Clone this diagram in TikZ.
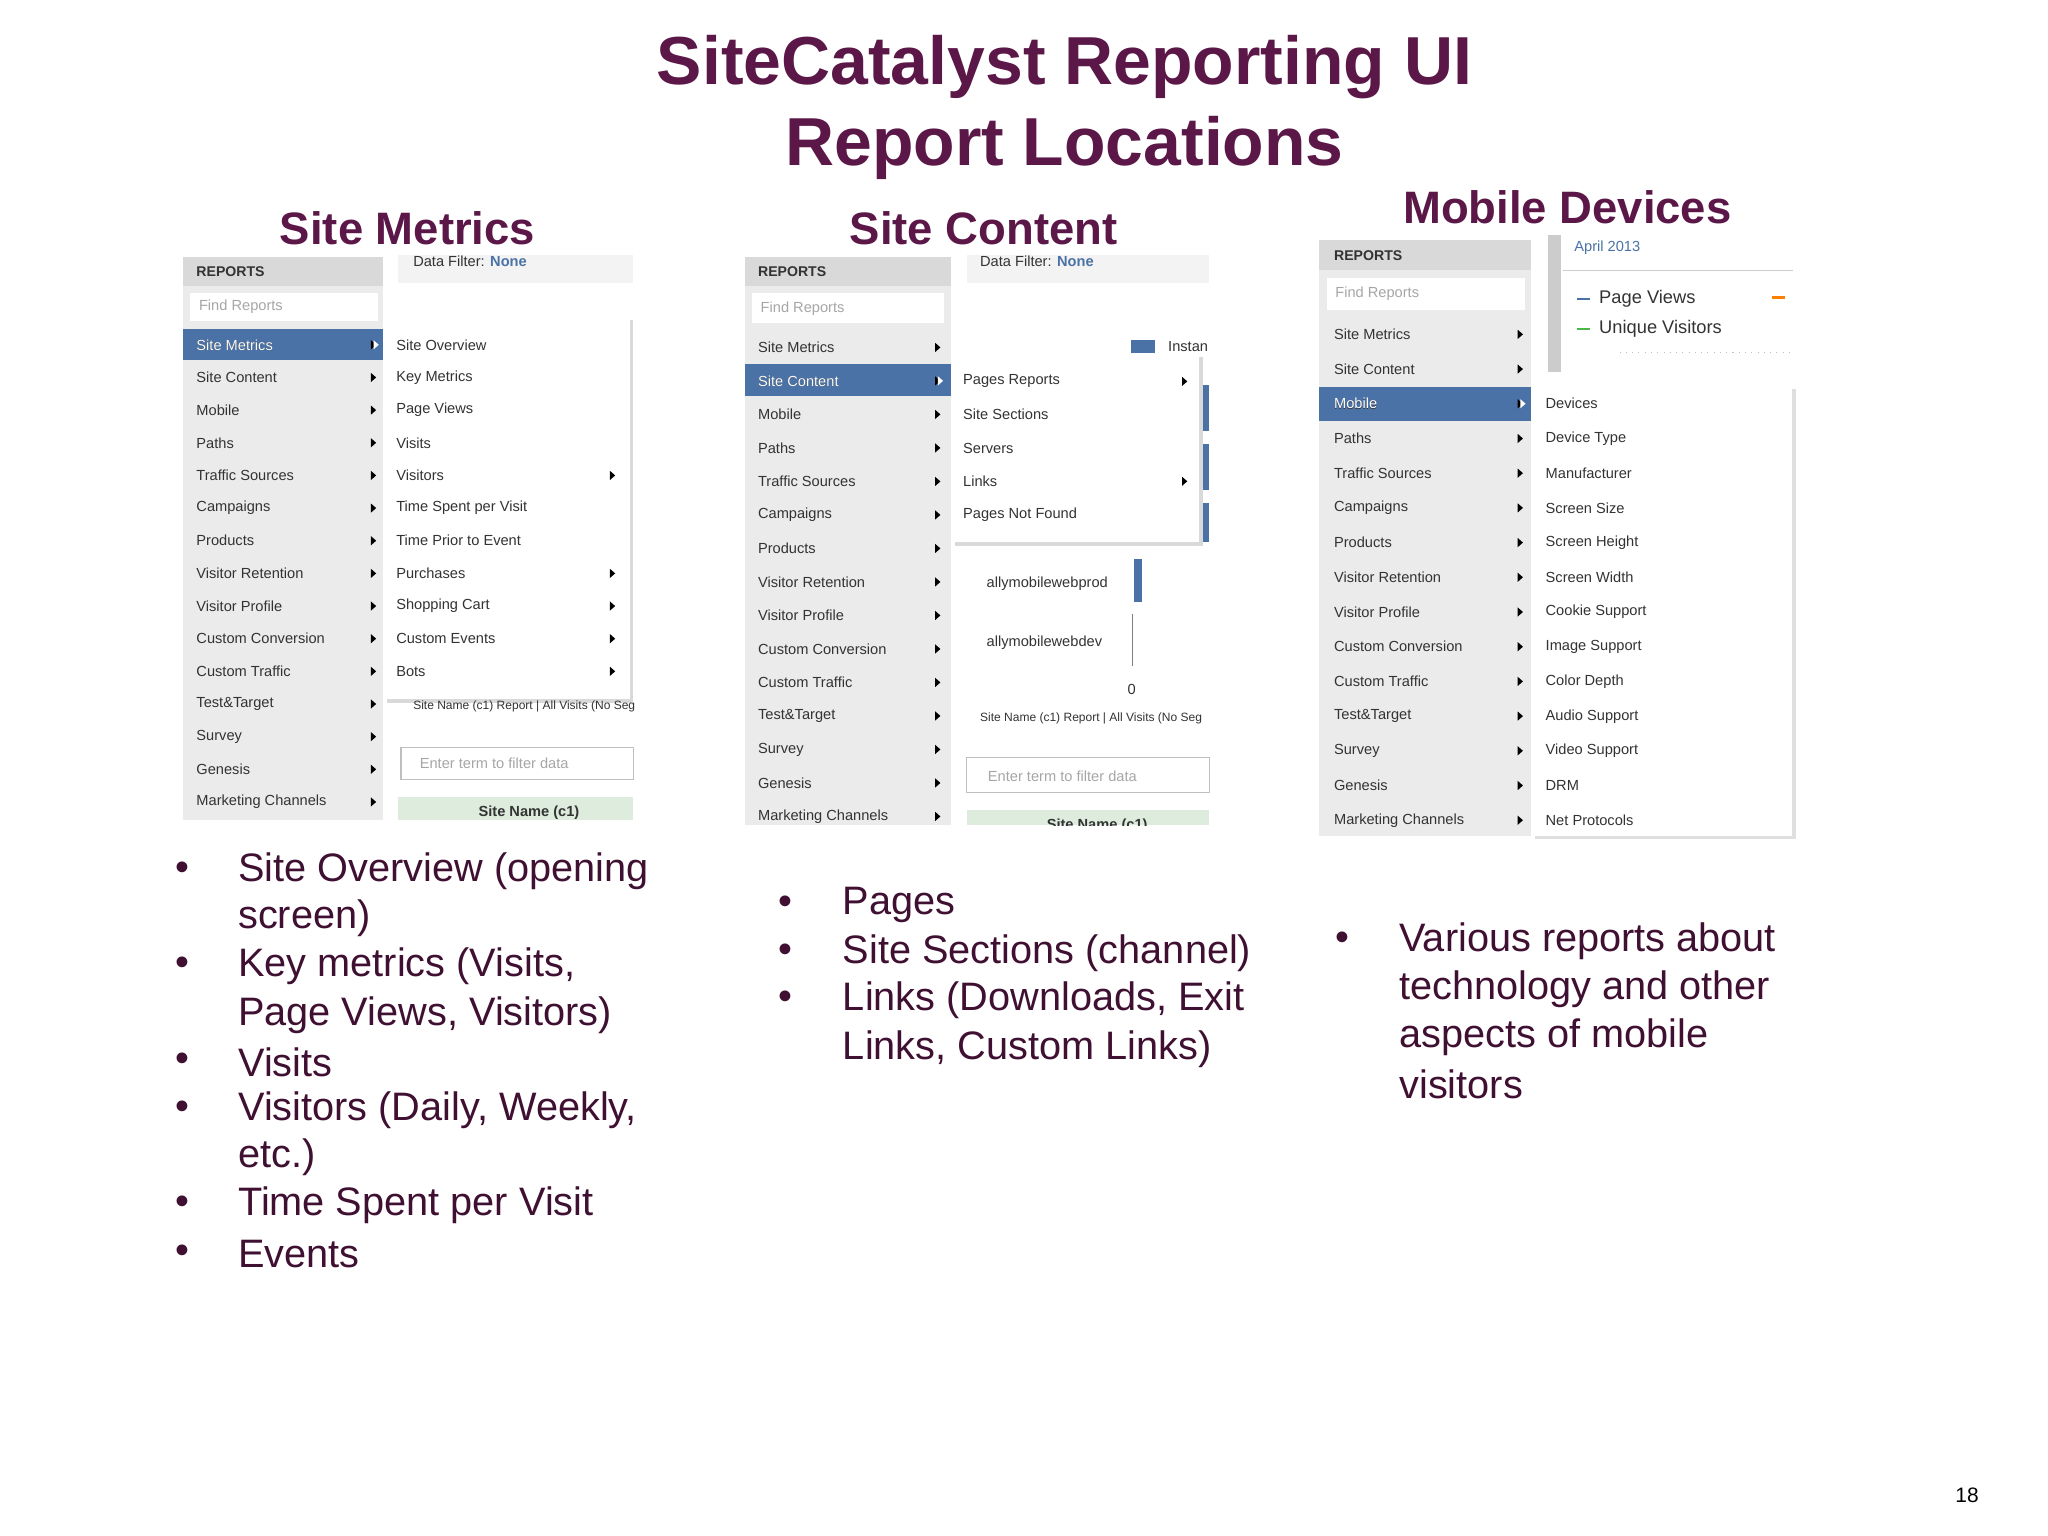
\documentclass[tikz,border=0pt]{standalone}
\usepackage{fontspec}
\setmainfont{Liberation Sans}
\definecolor{ttl}{HTML}{5B1747}
\definecolor{hl}{HTML}{4A72A6}
\definecolor{mg}{HTML}{EBEBEB}
\definecolor{hd}{HTML}{D9D9D9}
\definecolor{tx}{HTML}{333333}
\tikzset{
 mi/.style={anchor=west,inner sep=0,font=\fontsize{5.6}{7}\selectfont,text=tx},
 bul/.style={anchor=west,inner sep=0,font=\fontsize{15.2}{18}\selectfont,text=ttl!70!black},
 hdg/.style={font=\bfseries\fontsize{17.4}{21}\selectfont,text=ttl},
}
\newcommand{\tri}[2]{\fill ({#1-2},{#2-3.5}) -- ({#1+2},{#2}) -- ({#1-2},{#2+3.5}) -- cycle;}
\begin{document}
\begin{tikzpicture}[x=0.5pt,y=-0.5pt]
\useasboundingbox (0,0) rectangle (1568,1176);
\fill[white] (0,0) rectangle (1568,1176);
\node[font=\bfseries\fontsize{26}{31}\selectfont,text=ttl,align=center] (title) at (815,82) {SiteCatalyst Reporting UI\\Report Locations};
\node[hdg] (h1) at (312,175) {Site Metrics};
\node[hdg] (h2) at (753,175) {Site Content};
\node[hdg] (h3) at (1200,159) {Mobile Devices};
% ===== Panel 1
\fill[mg] (140,197) rectangle (293,628);
\fill[hd] (140,197) rectangle (293,219);
\node[mi,font=\bfseries\fontsize{5.4}{7}\selectfont] (r1) at (150,208) {REPORTS};
\draw[white,fill=white] (146,225) rectangle (289,245);
\node[mi,text=gray!70] (f1) at (152,235) {Find Reports};
\fill[hl] (140,252) rectangle (293,276);
\foreach \t [count=\i] in {Site Metrics,Site Content,Mobile,Paths,Traffic Sources,Campaigns,Products,Visitor Retention,Visitor Profile,Custom Conversion,Custom Traffic,Test\&Target,Survey,Genesis,Marketing Channels}{
  \node[mi] (pa\i) at (150,{264+25*(\i-1)}) {\t}; \tri{286}{264+25*(\i-1)}
}
\node[mi,text=white] at (150,264) {Site Metrics};
\fill[white] (286,260.5) -- (290,264) -- (286,267.5) -- cycle;
\fill[mg!60] (305,195) rectangle (485,217);
\node[mi] (df1) at (316,200) {Data Filter: \textcolor{hl}{\bfseries None}};
\fill[hl] (480,292) rectangle (485,325);\fill[hl] (480,337) rectangle (485,370);\fill[hl] (480,380) rectangle (485,410);
\fill[gray!30] (296,245) rectangle (485,538);
\fill[white] (293,242) rectangle (482,535);
\foreach \t [count=\i] in {Site Overview,Key Metrics,Page Views,Visits,Visitors,Time Spent per Visit,Time Prior to Event,Purchases,Shopping Cart,Custom Events,Bots}{
  \node[mi] (sa\i) at (303,{264+25*(\i-1)}) {\t};
}
\foreach \y in {364,439,464,489,514}{\tri{469}{\y}}
\begin{scope}\clip (300,530) rectangle (486,550);
\node[mi,font=\fontsize{4.6}{6}\selectfont] (sn1) at (316,541) {Site Name (c1) Report | All Visits (No Seg};
\end{scope}
\draw[gray!50] (307,572) rectangle (485,597);
\node[mi,text=gray!70] (et1) at (321,584) {Enter term to filter data};
\fill[green!6!mg] (305,610) rectangle (485,628);
\node[mi,font=\bfseries\fontsize{5.6}{7}\selectfont,anchor=center] (c1) at (405,622) {Site Name (c1)};
% ===== Panel 2
\fill[mg] (570,197) rectangle (728,632);
\fill[hd] (570,197) rectangle (728,219);
\node[mi,font=\bfseries\fontsize{5.4}{7}\selectfont] (r2) at (580,208) {REPORTS};
\draw[white,fill=white] (576,225) rectangle (722,247);
\node[mi,text=gray!70] (f2) at (582,236) {Find Reports};
\fill[hl] (570,279) rectangle (728,303);
\foreach \t [count=\i] in {Site Metrics,Site Content,Mobile,Paths,Traffic Sources,Campaigns,Products,Visitor Retention,Visitor Profile,Custom Conversion,Custom Traffic,Test\&Target,Survey,Genesis,Marketing Channels}{
  \node[mi] (pb\i) at (580,{266+25.65*(\i-1)}) {\t}; \tri{718}{266+25.65*(\i-1)}
}
\node[mi,text=white] at (580,291.6) {Site Content};
\fill[white] (718,288) -- (722,291.6) -- (718,295.2) -- cycle;
\fill[mg!60] (740,195) rectangle (926,217);
\node[mi] (df2) at (750,200) {Data Filter: \textcolor{hl}{\bfseries None}};
\fill[hl] (866,260) rectangle (884,270);
\node[mi] (in2) at (894,265) {Instan};
\fill[hl] (920,295) rectangle (926,330);\fill[hl] (920,340) rectangle (926,375);\fill[hl] (920,385) rectangle (926,415);
\fill[gray!30] (731,273) rectangle (921,418);
\fill[white] (728,270) rectangle (918,415);
\foreach \t [count=\i] in {Pages Reports,Site Sections,Servers,Links,Pages Not Found}{
  \node[mi] (sb\i) at (737,{292+25.5*(\i-1)}) {\t};
}
\tri{907}{292}\tri{907}{368.5}
\node[mi] (ap) at (755,447) {allymobilewebprod};
\fill[hl] (868,428) rectangle (874,461);
\node[mi] (ad) at (755,492) {allymobilewebdev};
\draw[gray] (867,470) -- (867,510);
\node[mi] (z) at (863,528) {0};
\begin{scope}\clip (740,540) rectangle (926,560);
\node[mi,font=\fontsize{4.6}{6}\selectfont] (sn2) at (750,550) {Site Name (c1) Report | All Visits (No Seg};
\end{scope}
\draw[gray!50] (740,580) rectangle (926,607);
\node[mi,text=gray!70] (et2) at (756,594) {Enter term to filter data};
\fill[green!6!mg] (740,620) rectangle (926,632);
\begin{scope}\clip (740,620) rectangle (926,632);
\node[mi,font=\bfseries\fontsize{5.6}{7}\selectfont,anchor=center] (c2) at (840,632) {Site Name (c1)};
\end{scope}
% ===== Panel 3
\fill[mg] (1010,184) rectangle (1172,640);
\fill[hd] (1010,184) rectangle (1172,207);
\node[mi,font=\bfseries\fontsize{5.4}{7}\selectfont] (r3) at (1021,196) {REPORTS};
\draw[white,fill=white] (1016,213) rectangle (1167,237);
\node[mi,text=gray!70] (f3) at (1022,225) {Find Reports};
\fill[hl] (1010,296) rectangle (1172,322);
\foreach \t [count=\i] in {Site Metrics,Site Content,Mobile,Paths,Traffic Sources,Campaigns,Products,Visitor Retention,Visitor Profile,Custom Conversion,Custom Traffic,Test\&Target,Survey,Genesis,Marketing Channels}{
  \node[mi] (pc\i) at (1021,{256+26.57*(\i-1)}) {\t}; \tri{1164}{256+26.57*(\i-1)}
}
\node[mi,text=white] at (1021,309.1) {Mobile};
\fill[white] (1164,305.6) -- (1168,309.1) -- (1164,312.6) -- cycle;
\fill[gray!40] (1185,180) rectangle (1195,285);
\draw[gray!40] (1197,207) -- (1373,207);
\node[mi,text=hl] (ap3) at (1205,190) {April 2013};
\draw[hl,line width=1pt] (1207,229) -- (1217,229);
\node[mi,font=\fontsize{7}{9}\selectfont] (pv) at (1224,229) {Page Views};
\draw[green!60!black!70,line width=1pt] (1207,252) -- (1217,252);
\node[mi,font=\fontsize{7}{9}\selectfont] (uv) at (1224,252) {Unique Visitors};
\draw[orange,line width=1pt] (1357,228) -- (1367,228);
\draw[gray!50,dotted] (1240,270) -- (1373,270);
\fill[gray!25] (1175,298) rectangle (1375,642);
\fill[white] (1173,295) rectangle (1372,640);
\foreach \t [count=\i] in {Devices,Device Type,Manufacturer,Screen Size,Screen Height,Screen Width,Cookie Support,Image Support,Color Depth,Audio Support,Video Support,DRM,Net Protocols}{
  \node[mi] (sc\i) at (1183,{309+26.6*(\i-1)}) {\t};
}
% ===== Bullets
\foreach \y in {667,740,813,850,923,960}{\node[bul] at (134,\y) {•};}
\node[bul] (b1) at (182,667) {Site Overview (opening};
\node[bul] at (182,703) {screen)};
\node[bul] (b2) at (182,740) {Key metrics (Visits,};
\node[bul] at (182,777) {Page Views, Visitors)};
\node[bul] (b3) at (182,813) {Visits};
\node[bul] (b4) at (182,850) {Visitors (Daily, Weekly,};
\node[bul] at (182,886) {etc.)};
\node[bul] (b5) at (182,923) {Time Spent per Visit};
\node[bul] (b6) at (182,960) {Events};
\foreach \y in {693,730,766}{\node[bul] at (596,\y) {•};}
\node[bul] (c1b) at (645,693) {Pages};
\node[bul] (c2b) at (645,730) {Site Sections (channel)};
\node[bul] (c3b) at (645,766) {Links (Downloads, Exit};
\node[bul] at (645,803) {Links, Custom Links)};
\node[bul] at (1022,721) {•};
\node[bul] (d1) at (1071,721) {Various reports about};
\node[bul] at (1071,757) {technology and other};
\node[bul] at (1071,794) {aspects of mobile};
\node[bul] at (1071,830) {visitors};
\node[font=\fontsize{8}{10}\selectfont] (pg) at (1506,1145) {18};
\end{tikzpicture}
\end{document}
